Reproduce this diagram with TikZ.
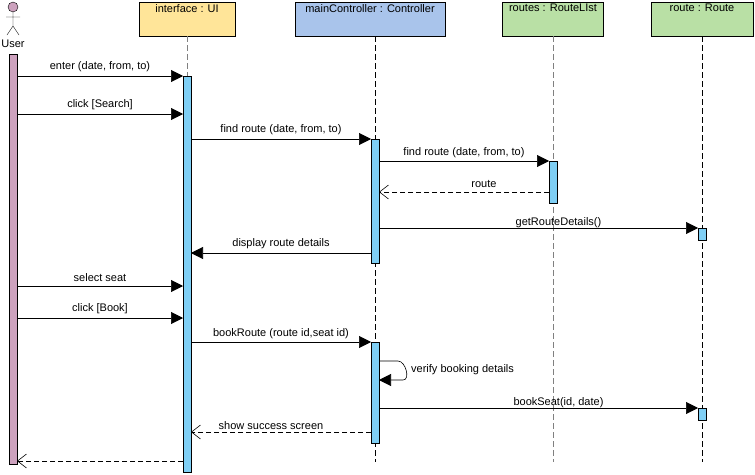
\documentclass[tikz,border=0pt]{standalone}
\usepackage{fontspec}
\setmainfont{Liberation Sans}
\usetikzlibrary{arrows.meta}
\definecolor{uiy}{HTML}{FFE599}
\definecolor{ctb}{HTML}{A9C4EB}
\definecolor{grn}{HTML}{B9E0A5}
\definecolor{act}{HTML}{7FCFF5}
\definecolor{pnk}{HTML}{CDA2BE}
\tikzset{
 x=1pt,y=-1pt,
 head/.style={draw,anchor=north,minimum height=34pt,text depth=22pt,font=\fontsize{11}{13}\selectfont,inner sep=0pt},
 life/.style={dashed,dash pattern=on 6pt off 3pt,thick},
 actbox/.style={draw,fill=act,line width=0.6pt},
 msg/.style={-{Triangle[length=12pt,width=12pt]},line width=0.6pt},
 ret/.style={-{Straight Barb[length=9pt,width=14pt]},dashed,dash pattern=on 5pt off 3pt,line width=0.6pt},
 lbl/.style={font=\fontsize{11}{13}\selectfont,inner sep=1pt,anchor=south},
}
\begin{document}
\begin{tikzpicture}
\useasboundingbox (0,0) rectangle (755,474);
% headers
\node[head,fill=uiy,minimum width=96pt] (ui) at (187,2) {interface : UI};
\node[head,fill=ctb,minimum width=150pt] (ct) at (370,2) {mainController : Controller};
\node[head,fill=grn,minimum width=101pt] (rs) at (553,2) {routes : RouteLIst};
\node[head,fill=grn,minimum width=102pt] (r) at (702,2) {route : Route};
% lifelines
\draw[life,gray] (ui.south) -- (187,472);
\draw[life] (375,36) -- (375,462);
\draw[life,gray] (553,36) -- (553,462);
\draw[life] (702,36) -- (702,462);
% actor
\draw[fill=pnk] (13,7) circle (5);
\draw (13,12) -- (13,26) (6,17) -- (20,17) (13,26) -- (7,35) (13,26) -- (19,35);
\node[font=\fontsize{11}{13}\selectfont,inner sep=0pt] (user) at (13,44) {User};
% activations
\node[actbox,fill=pnk,minimum width=8pt,minimum height=410pt,inner sep=0pt,anchor=north] (ua) at (13,54) {};
\node[actbox,minimum width=8pt,minimum height=396pt,inner sep=0pt,anchor=north] (uia) at (187,76) {};
\node[actbox,minimum width=8pt,minimum height=124pt,inner sep=0pt,anchor=north] (c1) at (375,139) {};
\node[actbox,minimum width=8pt,minimum height=42pt,inner sep=0pt,anchor=north] (rsa) at (553,161) {};
\node[actbox,minimum width=8pt,minimum height=12pt,inner sep=0pt,anchor=north] (ra1) at (702,228) {};
\node[actbox,minimum width=8pt,minimum height=101pt,inner sep=0pt,anchor=north] (c2) at (375,342) {};
\node[actbox,minimum width=8pt,minimum height=12pt,inner sep=0pt,anchor=north] (ra2) at (702,408) {};
% messages
\draw[msg] (17,76) -- node[lbl,pos=0.5,yshift=3pt]{enter (date, from, to)} (183,76);
\draw[msg] (17,114) -- node[lbl,yshift=3pt]{click [Search]} (183,114);
\draw[msg] (191,139) -- node[lbl,yshift=3pt]{find route (date, from, to)} (371,139);
\draw[msg] (379,161) -- node[lbl,yshift=2pt]{find route (date, from, to)} (549,161);
\draw[ret] (549,192) -- node[lbl,xshift=20pt,yshift=3pt]{route} (379,192);
\draw[msg] (379,228) -- node[lbl,xshift=20pt,yshift=-1pt]{getRouteDetails()} (698,228);
\draw[msg] (371,253) -- node[lbl,yshift=3pt]{display route details} (191,253);
\draw[msg] (17,286) -- node[lbl,yshift=3pt]{select seat} (183,286);
\draw[msg] (17,318) -- node[lbl,yshift=3pt]{click [Book]} (183,318);
\draw[msg] (191,342) -- node[lbl,yshift=2pt]{bookRoute (route id,seat id)} (371,342);
\draw[msg] (379,361) -- (398,361) to[out=0,in=0,looseness=1] (403,380) -- (379,380);
\node[font=\fontsize{11}{13}\selectfont,anchor=west,inner sep=0pt] (vb) at (411,370) {verify booking details};
\draw[msg] (379,408) -- node[lbl,xshift=20pt,yshift=-1pt]{bookSeat(id, date)} (698,408);
\draw[ret] (371,432) -- node[lbl,xshift=-10pt,yshift=1pt]{show success screen} (191,432);
\draw[ret] (183,461) -- (17,461);
\end{tikzpicture}
\end{document}
